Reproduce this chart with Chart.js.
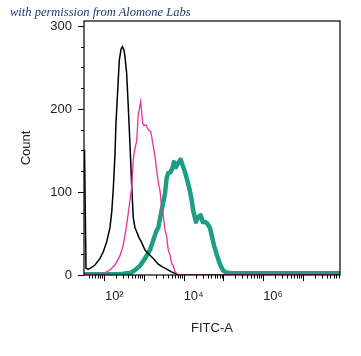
<!DOCTYPE html>
<html>
<head>
<meta charset="utf-8">
<script src="https://cdn.jsdelivr.net/npm/chart.js@4.4.1/dist/chart.umd.min.js"></script>
<style>
  html, body { margin: 0; padding: 0; background: #fff; }
  #wrap { position: relative; width: 361px; height: 356px; }
  #credit { position: absolute; left: 10px; top: 5px; font: italic 12.5px "Liberation Serif", serif; color: #22346f; white-space: nowrap; line-height: 14px; }
  canvas { position: absolute; left: 0; top: 0; }
</style>
</head>
<body>
<div id="wrap">
  <canvas id="c" width="361" height="356"></canvas>
  <div id="credit">with permission from Alomone Labs</div>
</div>
<script>
// FITC-A intensity (x) and event counts (y)
const blackX = [31.7, 34.6, 38.8, 43.7, 58.3, 78, 94.4, 115, 139, 154, 169, 186, 197, 218, 239, 264, 284, 313, 332, 366, 402, 444, 490, 537, 593, 654, 748, 875, 1059, 1283, 1714, 2291, 2840, 3730, 4790, 6040, 7310, 87000000];
const blackCounts = [151, 8, 7, 8, 12, 20, 28, 40, 57, 76, 105, 145, 183, 223, 259, 272, 275, 271, 263, 243, 203, 157, 108, 69, 57, 52, 45, 39, 30, 26, 20, 13, 10, 7, 4, 2, 0, 0];

const magentaX = [30.8, 52.8, 70.6, 94.4, 139, 186, 248, 301, 366, 444, 490, 507, 537, 593, 654, 718, 826, 927, 1000, 1122, 1283, 1474, 1563, 1714, 1892, 2089, 2291, 2529, 2793, 3062, 3380, 3730, 4090, 4520, 4990, 5470, 6040, 6670, 7310, 87000000];
const magentaCounts = [0, 0, 1, 2, 6, 12, 23, 36, 60, 90, 105, 118, 139, 153, 161, 193, 209, 183, 180, 181, 175, 173, 167, 155, 143, 126, 112, 102, 81, 72, 54, 47, 30, 24, 14, 11, 4, 2, 0, 0];

const tealX = [30.8, 139, 248, 366, 444, 593, 793, 1059, 1416, 1714, 2089, 2291, 2793, 3380, 3730, 4090, 4710, 5290, 5700, 6400, 7310, 8400, 9440, 10790, 12330, 14420, 15920, 17460, 20420, 23330, 26800, 30100, 34400, 39300, 45900, 50700, 57900, 67700, 82000, 99300, 121000, 162000, 87000000];
const tealCounts = [1, 1, 1, 2, 2, 6, 11, 20, 30, 42, 54, 57, 78, 98, 117, 123, 124, 130, 136, 130, 135, 139, 132, 124, 114, 101, 90, 77, 64, 70, 72, 64, 64, 62, 57, 48, 36, 25, 13, 5, 3, 2, 2];

const xMin = 30.8, xMax = 87000000;
const yMin = 0, yMax = 306;
const xMajorTicks = [100, 1000, 10000, 100000, 1000000, 10000000];
const xMinorTicks = [40, 50, 60, 70, 80, 90,
  200, 300, 400, 500, 600, 700, 800, 900,
  2000, 3000, 4000, 5000, 6000, 7000, 8000, 9000,
  20000, 30000, 40000, 50000, 60000, 70000, 80000, 90000,
  200000, 300000, 400000, 500000, 600000, 700000, 800000, 900000,
  2000000, 3000000, 4000000, 5000000, 6000000, 7000000, 8000000, 9000000,
  20000000, 30000000, 40000000, 50000000, 60000000, 70000000, 80000000];
const xTickLabels = { 100: '10\u00B2', 10000: '10\u2074', 1000000: '10\u2076' };
const yMajorTicks = [0, 100, 200, 300];
const yMinorTicks = [25, 50, 75, 125, 150, 175, 225, 250, 275];

const toPoints = (xs, ys) => xs.map((v, i) => ({ x: v, y: ys[i] }));

const axisTicks = {
  id: 'axisTicks',
  afterDraw(chart) {
    const { ctx, chartArea: a, scales: { x, y } } = chart;
    ctx.save();
    ctx.strokeStyle = '#000';
    ctx.lineWidth = 1;
    ctx.beginPath();
    x.ticks.forEach(t => {
      const px = Math.round(x.getPixelForValue(t.value)) + 0.5;
      const len = xMajorTicks.includes(t.value) ? 6 : 3.5;
      ctx.moveTo(px, a.bottom);
      ctx.lineTo(px, a.bottom + len);
    });
    y.ticks.forEach(t => {
      const py = Math.round(y.getPixelForValue(t.value)) + 0.5;
      const len = yMajorTicks.includes(t.value) ? 6 : 3;
      ctx.moveTo(a.left, py);
      ctx.lineTo(a.left - len, py);
    });
    ctx.stroke();
    ctx.lineWidth = 1.2;
    ctx.strokeRect(a.left, a.top, a.right - a.left, a.bottom - a.top);
    ctx.restore();
  }
};

new Chart(document.getElementById('c'), {
  type: 'line',
  data: {
    datasets: [
      { label: 'magenta', data: toPoints(magentaX, magentaCounts), borderColor: '#e6329c', borderWidth: 1.3, pointRadius: 0, tension: 0, fill: false },
      { label: 'black', data: toPoints(blackX, blackCounts), borderColor: '#000000', borderWidth: 1.5, pointRadius: 0, tension: 0, fill: false },
      { label: 'teal', data: toPoints(tealX, tealCounts), borderColor: '#1b9e82', borderWidth: 4.5, pointRadius: 0, tension: 0, fill: false, borderJoinStyle: 'round' }
    ]
  },
  options: {
    responsive: false,
    animation: false,
    events: [],
    layout: { padding: { left: 0, top: 21, right: 21, bottom: 0 } },
    plugins: { legend: { display: false }, tooltip: { enabled: false } },
    scales: {
      x: {
        type: 'logarithmic',
        min: xMin, max: xMax,
        afterBuildTicks(scale) {
          scale.ticks = xMajorTicks.concat(xMinorTicks).sort((p, q) => p - q).map(v => ({ value: v, major: xMajorTicks.includes(v) }));
        },
        afterFit(scale) { scale.height = 81; },
        grid: { display: false, drawTicks: false },
        border: { display: false },
        ticks: {
          autoSkip: false, maxRotation: 0, minRotation: 0, padding: 14, labelOffset: 10,
          color: '#222', font: { family: 'Liberation Sans, Arial, sans-serif', size: 13 },
          callback: v => xTickLabels[v] || ''
        },
        title: { display: true, text: 'FITC-A', color: '#222', font: { family: 'Liberation Sans, Arial, sans-serif', size: 13 }, padding: { top: 0, bottom: 20 } }
      },
      y: {
        min: yMin, max: yMax,
        afterBuildTicks(scale) {
          scale.ticks = yMajorTicks.concat(yMinorTicks).sort((p, q) => p - q).map(v => ({ value: v }));
        },
        afterFit(scale) { scale.width = 84; },
        grid: { display: false, drawTicks: false },
        border: { display: false },
        ticks: {
          autoSkip: false, padding: 12,
          color: '#222', font: { family: 'Liberation Sans, Arial, sans-serif', size: 13 },
          callback: v => yMajorTicks.includes(v) ? String(v) : ''
        },
        title: { display: true, text: 'Count', color: '#222', font: { family: 'Liberation Sans, Arial, sans-serif', size: 13 }, padding: { top: 19, bottom: 0 } }
      }
    }
  },
  plugins: [axisTicks]
});
</script>
</body>
</html>
